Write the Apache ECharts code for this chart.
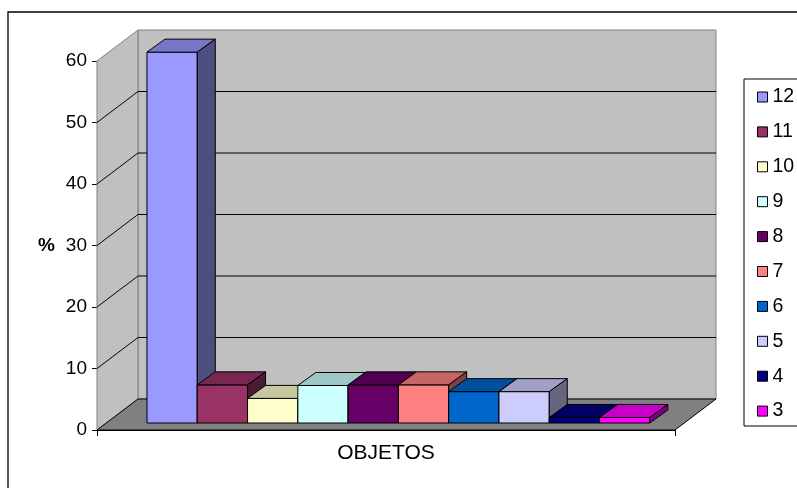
<!DOCTYPE html>
<html>
<head>
<meta charset="utf-8">
<script src="https://cdn.jsdelivr.net/npm/echarts@6/dist/echarts.min.js"></script>
<style>
html,body{margin:0;padding:0;background:#fff;}
#chart{width:797px;height:488px;}
</style>
</head>
<body>
<div id="chart"></div>
<script>
// ---- data ----
const categories = ['OBJETOS'];
const seriesNames = ['12', '11', '10', '9', '8', '7', '6', '5', '4', '3'];
const seriesValues = [60.3, 6.2, 4.0, 6.1, 6.2, 6.2, 5.1, 5.1, 0.9, 0.9];
const seriesColors = ['#9999ff', '#993366', '#ffffcc', '#ccffff', '#660066', '#ff8080', '#0066cc', '#ccccff', '#000080', '#ff00ff'];
const yTicks = [0, 10, 20, 30, 40, 50, 60];
const yName = '%';

// ---- 3D geometry (styling) ----
const WALL_DX = 41, WALL_DY = -31;   // depth of walls/floor
const BAR_DX = 9, BAR_DY = -7;       // bars' front plane offset
const BDEP_DX = 18, BDEP_DY = -13;   // bar depth
const GROUP_START = 0.0709;          // fraction of band before first bar
const BAR_FRAC = 0.087;              // bar width as fraction of band

const FONT = '"Liberation Sans", Arial, sans-serif';

function shade(hex, f) {
  const n = parseInt(hex.slice(1), 16);
  const r = Math.round(((n >> 16) & 255) * f);
  const g = Math.round(((n >> 8) & 255) * f);
  const b = Math.round((n & 255) * f);
  return 'rgb(' + r + ',' + g + ',' + b + ')';
}

function wallRender(params, api) {
  const cs = params.coordSys;
  const L = cs.x, R = cs.x + cs.width, T = cs.y, B = cs.y + cs.height;
  const t = api.value(1);
  const y = api.coord([0, t])[1];
  const children = [];
  if (params.dataIndex === 0) {
    children.push({
      type: 'polygon',
      shape: { points: [[L + WALL_DX, T + WALL_DY], [R + WALL_DX, T + WALL_DY], [R + WALL_DX, B + WALL_DY], [L + WALL_DX, B + WALL_DY]] },
      style: { fill: '#c0c0c0', stroke: '#808080', lineWidth: 1 }
    });
    children.push({
      type: 'polygon',
      shape: { points: [[L, T], [L + WALL_DX, T + WALL_DY], [L + WALL_DX, B + WALL_DY], [L, B]] },
      style: { fill: '#c0c0c0', stroke: '#808080', lineWidth: 1 }
    });
    children.push({
      type: 'polygon',
      shape: { points: [[L, B], [L + WALL_DX, B + WALL_DY], [R + WALL_DX, B + WALL_DY], [R, B]] },
      style: { fill: '#808080', stroke: '#000', lineWidth: 1 }
    });
  }
  if (t > yTicks[0] && t < yTicks[yTicks.length - 1]) {
    children.push({
      type: 'polyline',
      shape: { points: [[L, y], [L + WALL_DX, y + WALL_DY], [R + WALL_DX, y + WALL_DY]] },
      style: { stroke: '#000', lineWidth: 1, fill: 'none' }
    });
  }
  return { type: 'group', children: children };
}

function makeBarRender(idx, color) {
  return function (params, api) {
    const base = api.coord([api.value(0), 0]);
    const top = api.coord([api.value(0), api.value(1)]);
    const band = api.size([1, 0])[0];
    const x = base[0] - band / 2 + band * (GROUP_START + idx * BAR_FRAC) + BAR_DX;
    const w = band * BAR_FRAC;
    const yb = base[1] + BAR_DY;
    const yt = top[1] + BAR_DY;
    const st = { stroke: '#000', lineWidth: 1 };
    return {
      type: 'group',
      children: [
        { type: 'polygon', shape: { points: [[x, yt], [x + w, yt], [x + w, yb], [x, yb]] }, style: Object.assign({ fill: color }, st) },
        { type: 'polygon', shape: { points: [[x, yt], [x + w, yt], [x + w + BDEP_DX, yt + BDEP_DY], [x + BDEP_DX, yt + BDEP_DY]] }, style: Object.assign({ fill: shade(color, 0.78) }, st) },
        { type: 'polygon', shape: { points: [[x + w, yt], [x + w + BDEP_DX, yt + BDEP_DY], [x + w + BDEP_DX, yb + BDEP_DY], [x + w, yb]] }, style: Object.assign({ fill: shade(color, 0.5) }, st) }
      ]
    };
  };
}

const series = [{
  type: 'custom',
  name: '__walls',
  silent: true,
  z: 1,
  renderItem: wallRender,
  encode: { x: 0, y: 1 },
  data: yTicks.map(function (t) { return [0, t]; })
}];
seriesNames.forEach(function (n, i) {
  series.push({
    type: 'custom',
    name: n,
    z: 2,
    itemStyle: { color: seriesColors[i], borderColor: '#000', borderWidth: 1 },
    renderItem: makeBarRender(i, seriesColors[i]),
    encode: { x: 0, y: 1 },
    data: [[0, seriesValues[i]]]
  });
});

const chart = echarts.init(document.getElementById('chart'), null, { renderer: 'canvas' });
chart.setOption({
  animation: false,
  backgroundColor: '#fff',
  grid: { left: 97, right: 122, top: 61, bottom: 58 },
  graphic: [
    { type: 'rect', z: 0, shape: { x: 8, y: 12, width: 800, height: 500 }, style: { fill: 'none', stroke: '#000', lineWidth: 1.3 } },
    { type: 'rect', z: 0, shape: { x: 744, y: 79, width: 60, height: 347 }, style: { fill: '#fff', stroke: '#000', lineWidth: 1 } }
  ],
  legend: {
    data: seriesNames,
    orient: 'vertical',
    left: 752,
    top: 82,
    itemWidth: 10,
    itemHeight: 10,
    itemGap: 14.9,
    icon: 'rect',
    itemStyle: { borderColor: '#000', borderWidth: 1 },
    textStyle: { fontFamily: FONT, fontSize: 19.5, color: '#000' },
    selectedMode: false
  },
  xAxis: {
    type: 'category',
    data: categories,
    boundaryGap: true,
    axisLine: { lineStyle: { color: '#000', width: 1 } },
    axisTick: { show: true, length: 6, lineStyle: { color: '#000' } },
    axisLabel: { fontFamily: FONT, fontSize: 21, color: '#000', margin: 13 },
    splitLine: { show: false }
  },
  yAxis: {
    type: 'value',
    min: yTicks[0],
    max: yTicks[yTicks.length - 1],
    interval: yTicks[1] - yTicks[0],
    name: yName,
    nameLocation: 'middle',
    nameRotate: 0,
    nameGap: 42,
    nameTextStyle: { fontFamily: FONT, fontSize: 19, fontWeight: 'bold', color: '#000' },
    axisLine: { show: true, lineStyle: { color: '#000', width: 1 } },
    axisTick: { show: true, length: 5, lineStyle: { color: '#000' } },
    axisLabel: { fontFamily: FONT, fontSize: 19, color: '#000', margin: 10 },
    splitLine: { show: false }
  },
  series: series
});
</script>
</body>
</html>
